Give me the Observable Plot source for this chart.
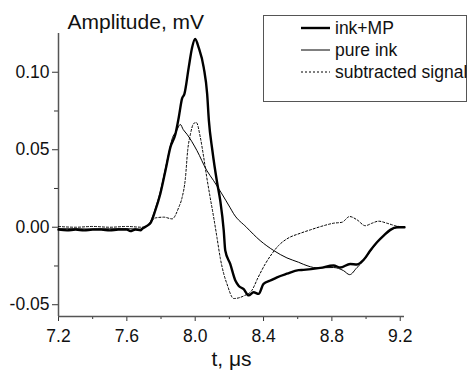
<!DOCTYPE html>
<html>
<head>
<meta charset="utf-8">
<script src="https://cdn.jsdelivr.net/npm/d3@7"></script>
<script src="https://cdn.jsdelivr.net/npm/@observablehq/plot@0.6"></script>
<style>
  html, body { margin: 0; padding: 0; background: white; }
  #wrap { position: relative; width: 470px; height: 371px; font-family: "Liberation Sans", Arial, Helvetica, sans-serif; }
  #legend { position: absolute; left: 263px; top: 15px; width: 204px; height: 87px; border: 1.5px solid #555; box-sizing: border-box; background: white; }
</style>
</head>
<body>
<div id="wrap"><div id="legend"></div></div>
<script>
// time (µs) and amplitude (mV)
const inkMP = [
  [7.20,-0.0015],[7.25,-0.002],[7.30,-0.0015],[7.35,-0.002],[7.40,-0.0015],[7.45,-0.0015],
  [7.50,-0.002],[7.55,-0.0015],[7.60,-0.0015],[7.62,-0.0025],[7.65,-0.0015],[7.68,-0.002],
  [7.69,-0.001],[7.72,0.001],[7.74,0.003],[7.767,0.011],[7.796,0.0216],[7.826,0.0366],
  [7.855,0.0517],[7.884,0.060],[7.904,0.071],[7.923,0.083],[7.937,0.086],[7.962,0.103],
  [7.982,0.116],[8.000,0.1215],[8.02,0.116],[8.05,0.103],[8.07,0.086],[8.08,0.069],
  [8.10,0.050],[8.128,0.029],[8.147,0.017],[8.167,-0.002],[8.176,-0.015],[8.205,-0.0237],
  [8.235,-0.0344],[8.254,-0.0377],[8.284,-0.040],[8.313,-0.044],[8.342,-0.042],[8.371,-0.043],
  [8.40,-0.0366],[8.44,-0.0344],[8.479,-0.0323],[8.537,-0.030],[8.605,-0.0277],[8.634,-0.0275],
  [8.732,-0.0262],[8.81,-0.0247],[8.849,-0.026],[8.907,-0.0237],[8.947,-0.024],[8.986,-0.021],
  [9.025,-0.015],[9.064,-0.0097],[9.103,-0.0054],[9.142,-0.0017],[9.18,0.0],[9.225,0.0]
];
const pureInk = [
  [7.20,-0.001],[7.30,-0.001],[7.40,-0.0012],[7.50,-0.001],[7.60,-0.001],[7.68,-0.0012],
  [7.70,-0.0005],[7.72,0.001],[7.74,0.004],[7.767,0.012],[7.796,0.023],[7.826,0.038],
  [7.85,0.050],[7.865,0.057],[7.89,0.062],[7.913,0.0663],[7.93,0.063],[7.952,0.060],
  [8.01,0.0495],[8.068,0.0366],[8.108,0.030],[8.205,0.0125],[8.225,0.0087],[8.30,0.0],
  [8.38,-0.0086],[8.459,-0.015],[8.537,-0.0198],[8.605,-0.0226],[8.635,-0.024],[8.713,-0.0262],
  [8.81,-0.026],[8.868,-0.028],[8.904,-0.0306],[8.947,-0.026],[8.986,-0.0215],[9.025,-0.0155],
  [9.064,-0.010],[9.103,-0.0058],[9.142,-0.002],[9.18,-0.0003],[9.225,0.0]
];
const subtracted = [
  [7.20,0.0005],[7.30,0.0],[7.40,0.0005],[7.50,0.0],[7.60,0.0005],[7.69,0.0],[7.72,0.001],
  [7.767,0.006],[7.816,0.0065],[7.865,0.0054],[7.904,0.0129],[7.923,0.019],[7.943,0.032],
  [7.956,0.0495],[7.972,0.060],[7.992,0.067],[8.007,0.0675],[8.03,0.058],[8.05,0.045],
  [8.068,0.032],[8.088,0.019],[8.108,0.0065],[8.128,-0.007],[8.147,-0.02],[8.167,-0.03],
  [8.186,-0.0366],[8.225,-0.046],[8.254,-0.0456],[8.29,-0.044],[8.33,-0.041],[8.37,-0.032],
  [8.41,-0.0237],[8.45,-0.017],[8.488,-0.0118],[8.537,-0.0075],[8.615,-0.0039],[8.674,-0.0017],
  [8.752,0.001],[8.81,0.0026],[8.859,0.0032],[8.904,0.0069],[8.947,0.0048],[8.995,0.001],
  [9.035,0.0026],[9.073,0.0039],[9.122,0.0026],[9.17,0.001],[9.22,0.0]
];
const xMajor = [7.2, 7.6, 8.0, 8.4, 8.8, 9.2];
const xMinor = [7.4, 7.8, 8.2, 8.6, 9.0];
const yMajor = [-0.05, 0.00, 0.05, 0.10];
const yMinor = [-0.025, 0.025, 0.075];
const xDomain = [7.2, 9.225];
const yDomain = [-0.0576, 0.125];
const seriesNames = ["ink+MP", "pure ink", "subtracted signal"];
const yTitle = "Amplitude, mV";
const xTitle = "t, \u03BCs";

const styles = [
  {strokeWidth: 2.4, dash: null},
  {strokeWidth: 1, dash: null},
  {strokeWidth: 1, dash: "2,2"}
];
const seriesData = [inkMP, pureInk, subtracted];

const font = "'Liberation Sans', Arial, Helvetica, sans-serif";
const chart = Plot.plot({
  width: 470, height: 371,
  marginLeft: 58, marginRight: 66, marginTop: 33, marginBottom: 55,
  x: {domain: xDomain},
  y: {domain: yDomain},
  style: {fontFamily: font, fontSize: "17.5px", color: "#111", background: "white"},
  marks: [
    Plot.axisY({ticks: yMajor, tickSize: 6, tickPadding: 3, tickFormat: d => d.toFixed(2), label: null, fontSize: 17.5, stroke: "#333"}),
    Plot.axisY({ticks: yMinor, tickSize: 4, tickFormat: () => "", label: null, stroke: "#333"}),
    Plot.axisX({ticks: xMajor, tickSize: 5, tickPadding: 8, tickFormat: d => d.toFixed(1), label: null, fontSize: 17.5, stroke: "#333"}),
    Plot.axisX({ticks: xMinor, tickSize: 3, tickFormat: () => "", label: null, stroke: "#333"}),
    Plot.ruleX([xDomain[0]], {stroke: "#555", strokeWidth: 1.5}),
    Plot.ruleY([yDomain[0]], {stroke: "#555", strokeWidth: 1.5}),
    ...seriesData.map((data, i) => Plot.line(data, {
      x: d => d[0], y: d => d[1], curve: "monotone-x",
      stroke: "black", strokeWidth: styles[i].strokeWidth, strokeDasharray: styles[i].dash
    })),
    Plot.text([yTitle], {frameAnchor: "top-left", lineAnchor: "middle", dx: 9, dy: -11, textAnchor: "start", fontSize: 21, fill: "#111"}),
    Plot.text([xTitle], {frameAnchor: "bottom", lineAnchor: "middle", dy: 43, fontSize: 21, fill: "#111"})
  ]
});
const wrap = document.getElementById("wrap");
wrap.insertBefore(chart, wrap.firstChild);

// legend
const leg = d3.select("#legend").append("svg").attr("width", 202).attr("height", 85)
  .style("font-family", font).style("font-size", "17.5px").style("overflow", "visible");
seriesNames.forEach((name, i) => {
  const y = 12 + i * 22;
  leg.append("line").attr("x1", 37).attr("x2", 66).attr("y1", y).attr("y2", y)
    .attr("stroke", "black").attr("stroke-width", styles[i].strokeWidth)
    .attr("stroke-dasharray", styles[i].dash);
  leg.append("text").attr("x", 71).attr("y", y).attr("dy", "0.35em").attr("fill", "#111").text(name);
});
</script>
</body>
</html>
